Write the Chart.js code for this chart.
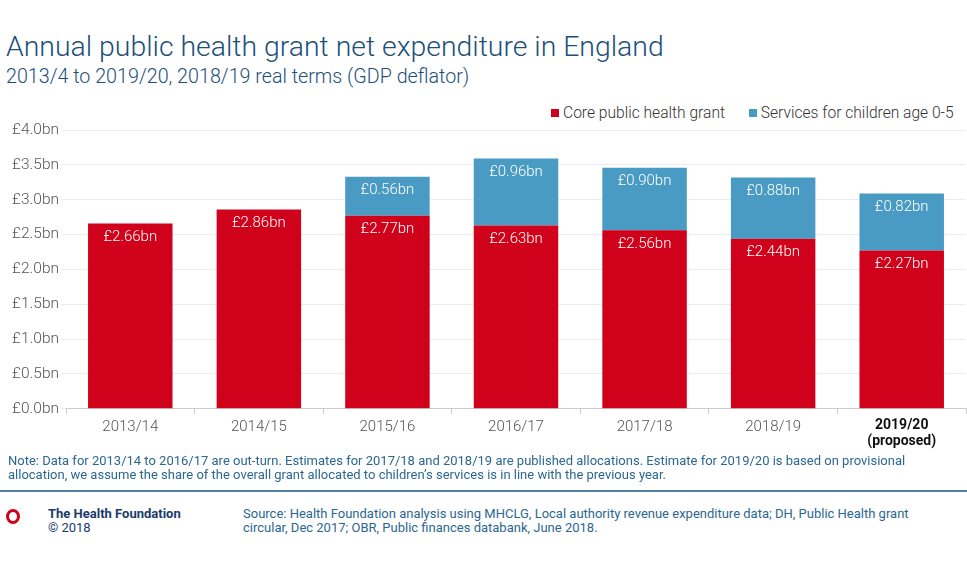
<!DOCTYPE html>
<html>
<head>
<meta charset="utf-8">
<script src="https://cdn.jsdelivr.net/npm/chart.js@4/dist/chart.umd.min.js"></script>
<style>
    html, body { margin: 0; padding: 0; background: #fff; overflow: hidden; }
    body { width: 967px; height: 572px; position: relative; font-family: Roboto, "Liberation Sans", sans-serif; }
    .title { position: absolute; left: 6px; top: 30px; font-size: 28.4px; font-weight: 300; color: #1b4f7c; white-space: nowrap; }
    .subtitle { position: absolute; left: 6px; top: 65px; font-size: 19.7px; font-weight: 300; color: #1b4f7c; white-space: nowrap; }
    .legend { position: absolute; top: 104px; left: 551px; font-size: 15.6px; font-weight: 300; color: #333; white-space: nowrap; }
    .legend span.sw { display: inline-block; width: 8px; height: 8px; margin-right: 4px; vertical-align: 1px; }
    .legend span.item { margin-right: 20px; }
    #wrap { position: absolute; left: 0; top: 100px; width: 970px; height: 354px; }
    .note { position: absolute; left: 8px; top: 454px; font-size: 13px; line-height: 14px; color: #2b6791; width: 950px; }
    .rule { position: absolute; left: 0; top: 490px; width: 967px; height: 2px; background: #4f7ea6; }
    .logo { position: absolute; left: 6px; top: 509px; width: 8px; height: 9px; border: 3px solid #d0021b; border-radius: 50%; }
    .org { position: absolute; left: 48px; top: 507px; font-size: 13px; line-height: 14px; color: #1b3c6b; }
    .org b { font-weight: 700; }
    .source { position: absolute; left: 243px; top: 507px; font-size: 13px; line-height: 14px; color: #2b6791; width: 690px; }
</style>
</head>
<body>
<div class="title">Annual public health grant net expenditure in England</div>
<div class="subtitle">2013/4 to 2019/20, 2018/19 real terms (GDP deflator)</div>
<div class="legend">
    <span class="item"><span class="sw" style="background:#d0021b"></span>Core public health grant</span>
    <span><span class="sw" style="background:#4a9bc4"></span>Services for children age 0-5</span>
</div>
<div id="wrap"><canvas id="grantchart"></canvas></div>
<div class="note">Note: Data for 2013/14 to 2016/17 are out-turn. Estimates for 2017/18 and 2018/19 are published allocations. Estimate for 2019/20 is based on provisional allocation, we assume the share of the overall grant allocated to children’s services is in line with the previous year.</div>
<div class="rule"></div>
<div class="logo"></div>
<div class="org"><b>The Health Foundation</b><br>© 2018</div>
<div class="source">Source: Health Foundation analysis using MHCLG, Local authority revenue expenditure data; DH, Public Health grant circular, Dec 2017; OBR, Public finances databank, June 2018.</div>

<script>
"use strict";

var years = ['2013/14', '2014/15', '2015/16', '2016/17', '2017/18', '2018/19', ['2019/20', '(proposed)']];
var coreGrant = [2.66, 2.86, 2.77, 2.63, 2.56, 2.44, 2.27];
var childrenServices = [0, 0, 0.56, 0.96, 0.90, 0.88, 0.82];
var yTicks = [0, 0.5, 1.0, 1.5, 2.0, 2.5, 3.0, 3.5, 4.0];

document.addEventListener("DOMContentLoaded", function () {

    /* white value labels near the top of each segment */
    var valueLabels = {
        id: 'valueLabels',
        afterDatasetsDraw: function (chart) {
            var ctx = chart.ctx;
            ctx.save();
            ctx.fillStyle = '#ffffff';
            ctx.font = '300 15px Roboto, "Liberation Sans", sans-serif';
            ctx.textAlign = 'center';
            ctx.textBaseline = 'middle';
            chart.data.datasets.forEach(function (ds, i) {
                chart.getDatasetMeta(i).data.forEach(function (bar, j) {
                    var v = ds.data[j];
                    if (!v) return;
                    ctx.fillText('£' + v.toFixed(2) + 'bn', bar.x, bar.y + 14);
                });
            });
            ctx.restore();
        }
    };

    var ctx = document.getElementById('grantchart').getContext('2d');
    var config = {
        type: 'bar',
        data: {
            labels: years,
            datasets: [{
                label: 'Core public health grant',
                data: coreGrant,
                backgroundColor: '#d0021b',
                barPercentage: 0.657,
                categoryPercentage: 1
            }, {
                label: 'Services for children age 0-5',
                data: childrenServices,
                backgroundColor: '#4a9bc4',
                barPercentage: 0.657,
                categoryPercentage: 1
            }]
        },
        options: {
            responsive: true,
            maintainAspectRatio: false,
            animation: false,
            layout: { padding: { top: 30, right: 4 } },
            plugins: {
                legend: { display: false },
                tooltip: { enabled: false }
            },
            scales: {
                x: {
                    stacked: true,
                    grid: { drawOnChartArea: false, drawTicks: true, tickLength: 5, color: '#cccccc', offset: true },
                    border: { color: '#cccccc' },
                    ticks: {
                        color: function (c) { return c.index === 6 ? '#111111' : '#555555'; },
                        font: function (c) {
                            return c.index === 6
                                ? { family: 'Roboto, "Liberation Sans", sans-serif', size: 14, weight: 'bold', lineHeight: 1.15 }
                                : { family: 'Roboto, "Liberation Sans", sans-serif', size: 15, weight: '300' };
                        },
                        padding: 4,
                        maxRotation: 0
                    }
                },
                y: {
                    stacked: true,
                    min: 0,
                    max: 4,
                    afterBuildTicks: function (scale) {
                        scale.ticks = yTicks.map(function (v) { return { value: v }; });
                    },
                    afterFit: function (scale) { scale.width = 66; },
                    grid: { color: '#ececec', tickLength: 5 },
                    border: { display: false },
                    ticks: {
                        color: '#555555',
                        font: { family: 'Roboto, "Liberation Sans", sans-serif', size: 15.5, weight: '300' },
                        padding: 2,
                        callback: function (v) { return '£' + Number(v).toFixed(1) + 'bn'; }
                    }
                }
            }
        },
        plugins: [valueLabels]
    };
    new Chart(ctx, config);
});
</script>
</body>
</html>
